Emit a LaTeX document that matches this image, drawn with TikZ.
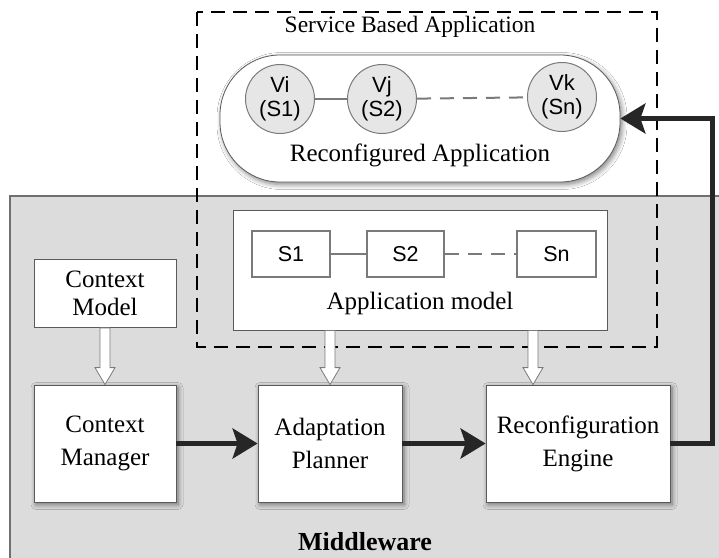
\documentclass[tikz,border=0pt]{standalone}
\usepackage{fontspec}
\setmainfont{Liberation Serif}
\setsansfont{Liberation Sans}
\usetikzlibrary{arrows.meta,shadows.blur,calc}

\definecolor{mwfill}{HTML}{DCDCDC}
\definecolor{mwline}{HTML}{707070}
\definecolor{boxline}{HTML}{5A5A5A}
\definecolor{svcline}{HTML}{7A7A7A}
\definecolor{svcfill}{HTML}{E6E6E6}
\definecolor{flowcol}{HTML}{262626}

\tikzset{
  softshadow/.style={blur shadow={shadow xshift=2pt, shadow yshift=-2.5pt,
      shadow blur radius=5pt, shadow blur steps=6, shadow opacity=50}},
  block/.style={draw=boxline, line width=0.8pt, fill=white, align=center,
      minimum height=117pt, font=\fontsize{25}{33}\selectfont, softshadow},
  plainbox/.style={draw=boxline, line width=0.8pt, fill=white, align=center},
  svcbox/.style={draw=svcline, line width=1.4pt, fill=white,
      minimum height=46pt, font=\sffamily\fontsize{21.5}{24}\selectfont},
  svcnode/.style={circle, draw=svcline, line width=1pt, fill=svcfill,
      minimum size=69pt, inner sep=0pt, align=center,
      font=\sffamily\fontsize{22}{24}\selectfont},
  label25/.style={font=\fontsize{25}{30}\selectfont, inner sep=0pt},
  link/.style={draw=svcline, line width=1.6pt},
  dashlink/.style={link, line width=2pt, dash pattern=on 14pt off 9pt},
  flow/.style={draw=flowcol, line width=4.5pt, line join=miter,
      -{Stealth[length=25pt, width=30pt, inset=5pt]}},
  harrow/.style={draw=svcline, line width=0.8pt, fill=white, line join=miter},
}

% hollow (open) block arrow from the bottom of #1 down to the tip coordinate #2
\newcommand\hollowarrow[2]{%
  \coordinate (ht) at (#2);
  \coordinate (hs) at (ht |- #1);
  \filldraw[harrow] ($(hs)+(-5,0)$) -- ($(ht)+(-5,-17)$) -- ($(ht)+(-10,-17)$)
    -- (ht) -- ($(ht)+(10,-17)$) -- ($(ht)+(5,-17)$) -- ($(hs)+(5,0)$) -- cycle;
}

\begin{document}
\begin{tikzpicture}[x=1pt, y=-1pt]
\useasboundingbox (0,0) rectangle (719,557);
\clip (0,0) rectangle (719,557);
\fill[white] (0,0) rectangle (719,557);

% middleware layer
\draw[draw=mwline, line width=1.6pt, fill=mwfill] (10,196) rectangle (745,590);
\node[font=\bfseries\fontsize{26}{30}\selectfont] (mw) at (365,542) {Middleware};

% application model with its services
\node[plainbox, minimum width=374pt, minimum height=120pt] (am) at (420,270) {};
\node[svcbox, minimum width=78pt] (s1) at (291,254) {S1};
\node[svcbox, minimum width=77pt] (s2) at (405.5,254) {S2};
\node[svcbox, minimum width=79pt] (sn) at (556.5,254) {Sn};
\draw[link] (s1) -- (s2);
\draw[dashlink] (s2) -- (sn);
\node[label25] (amlabel) at (420,303) {Application model};

% reconfigured application
\node[draw=boxline, line width=0.8pt, fill=white, rounded corners=60pt,
      minimum width=400pt, minimum height=127pt, softshadow] (ra) at (420,118.5) {};
\node[svcnode] (vi) at (280,99) {Vi\\(S1)};
\node[svcnode] (vj) at (382,99) {Vj\\(S2)};
\node[svcnode] (vk) at (562,97) {Vk\\(Sn)};
\draw[link] (vi) -- (vj);
\draw[dashlink] (vj) -- (vk);
\node[label25] (ralabel) at (420,155) {Reconfigured Application};

% service based application boundary
\draw[line width=1.5pt, dash pattern=on 14pt off 8pt] (197,12) rectangle (657,347);
\node[label25, font=\fontsize{23.5}{28}\selectfont] (sba) at (410,27) {Service Based Application};

% middleware components
\node[plainbox, minimum width=142pt, minimum height=68pt,
      font=\fontsize{25}{28}\selectfont] (cmod) at (105,293.5) {Context\\Model};
\node[block, minimum width=142pt] (cman) at (105,443.5) {Context\\Manager};
\node[block, minimum width=144pt] (ap) at (330,443.5) {Adaptation\\Planner};
\node[block, minimum width=184pt] (re) at (578,443.5) {Reconfiguration\\Engine};

% model inputs
\hollowarrow{cmod.south}{cman.north}
\hollowarrow{am.south}{ap.north}
\coordinate (reIn) at ($(re.north)+(-45,0)$);
\hollowarrow{am.south}{reIn}

% control flow
\draw[flow] (cman) -- (ap);
\draw[flow] (ap) -- (re);
\draw[flow] (re.east) -- ++(42,0) |- (ra.east);
\end{tikzpicture}
\end{document}
